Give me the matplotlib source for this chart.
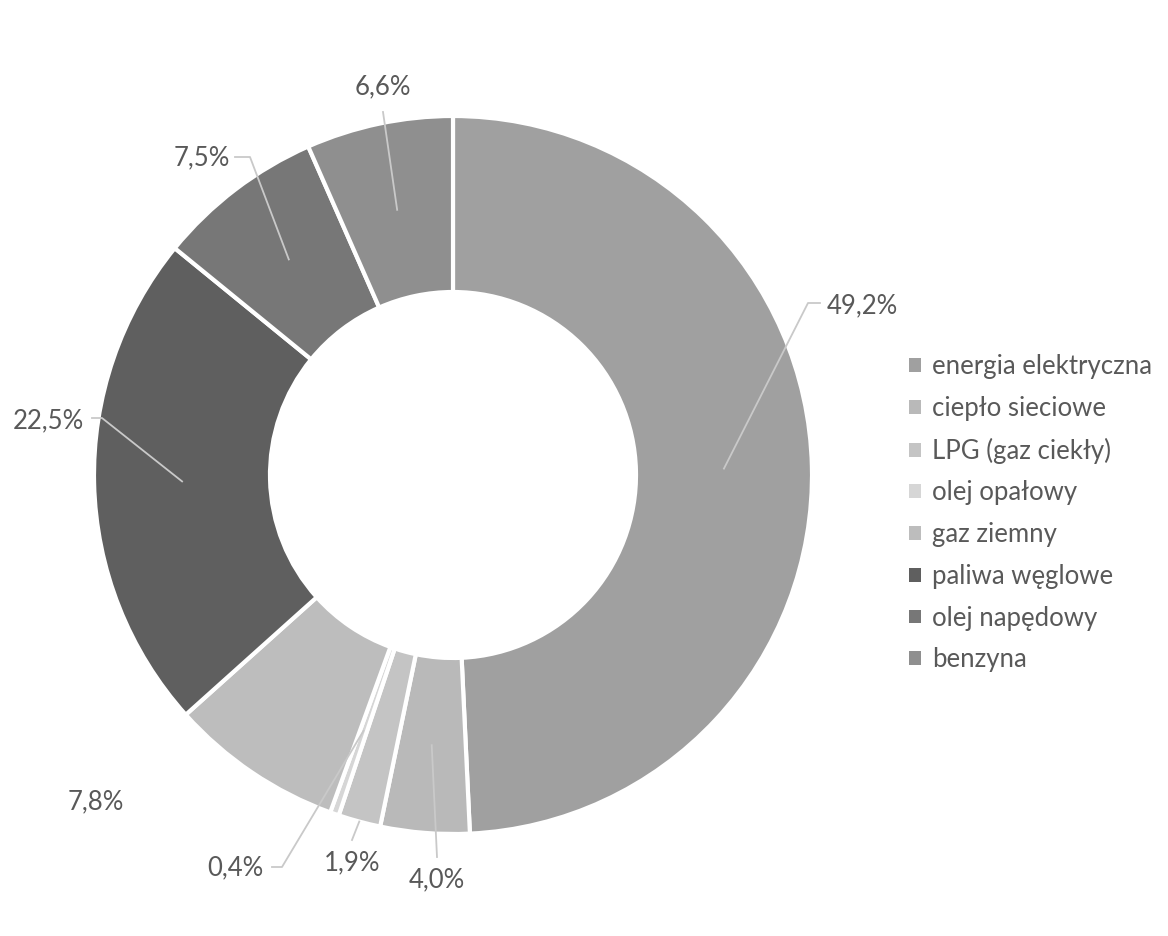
import numpy as np
import matplotlib.pyplot as plt
from matplotlib.patches import Patch

# data
categories = ["energia elektryczna", "ciepło sieciowe", "LPG (gaz ciekły)", "olej opałowy",
              "gaz ziemny", "paliwa węglowe", "olej napędowy", "benzyna"]
shares = [49.2, 4.0, 1.9, 0.4, 7.8, 22.5, 7.5, 6.6]
colors = ["#a0a0a0", "#b9b9b9", "#c4c4c4", "#d6d6d6", "#bdbdbd", "#5f5f5f", "#777777", "#8f8f8f"]

W, H = 1168, 936
CX, CY = 453, H - 475
R_OUT, R_IN = 359, 183

# label layout in pixels (x, y from top), leader start, elbow, end radius
label_pos = {
    "49.2": dict(xy=(862, 306), ha="center", start=(820, 303), elbow=(808, 303), r=271),
    "4.0": dict(xy=(437, 880), ha="center", start=(437, 857), elbow=None, r=271),
    "1.9": dict(xy=(352, 863), ha="center", start=(352, 840), elbow=None, r=R_OUT),
    "0.4": dict(xy=(235, 868), ha="center", start=(272, 867), elbow=(282, 867), r=271),
    "7.8": dict(xy=(96, 802), ha="center", start=None, elbow=None, r=271),
    "22.5": dict(xy=(48, 421), ha="center", start=(92, 418), elbow=(102, 418), r=271),
    "7.5": dict(xy=(202, 158), ha="center", start=(235, 157), elbow=(250, 157), r=271),
    "6.6": dict(xy=(383, 87), ha="center", start=(383, 112), elbow=None, r=271),
}

plt.rcParams["font.family"] = ["Lato", "DejaVu Sans"]
TEXT = "#595959"

fig = plt.figure(figsize=(W / 100, H / 100), dpi=100)
ax = fig.add_axes([0, 0, 1, 1])

wedges, _ = ax.pie(shares, colors=colors, startangle=90, counterclock=False,
                   radius=R_OUT, center=(CX, CY),
                   wedgeprops=dict(width=R_OUT - R_IN, edgecolor="white", linewidth=3))

ax.set_xlim(0, W)
ax.set_ylim(0, H)
ax.set_aspect("equal")
ax.axis("off")

for w, val in zip(wedges, shares):
    key = f"{val:.1f}"
    lp = label_pos[key]
    x, y = lp["xy"]
    ax.text(x, H - y, key.replace(".", ",") + "%", ha=lp["ha"], va="center",
            fontsize=18.5, color=TEXT)
    if lp["start"] is None:
        continue
    mid = np.deg2rad((w.theta1 + w.theta2) / 2)
    ex = CX + lp["r"] * np.cos(mid)
    ey = CY + lp["r"] * np.sin(mid)
    pts = [lp["start"]]
    if lp["elbow"] is not None:
        pts.append(lp["elbow"])
    xs = [p[0] for p in pts] + [ex]
    ys = [H - p[1] for p in pts] + [ey]
    ax.plot(xs, ys, color="#c9c9c9", lw=1.3, zorder=5)

handles = [Patch(facecolor=c, edgecolor="none") for c in colors]
ax.legend(handles, categories, loc="upper left", bbox_to_anchor=(899 / W, 1 - 344 / H),
          frameon=False, fontsize=18.5, labelcolor=TEXT, handlelength=0.45, handleheight=0.45,
          handletextpad=0.45, labelspacing=0.65, borderaxespad=0)

plt.savefig("out.png", dpi=100)
